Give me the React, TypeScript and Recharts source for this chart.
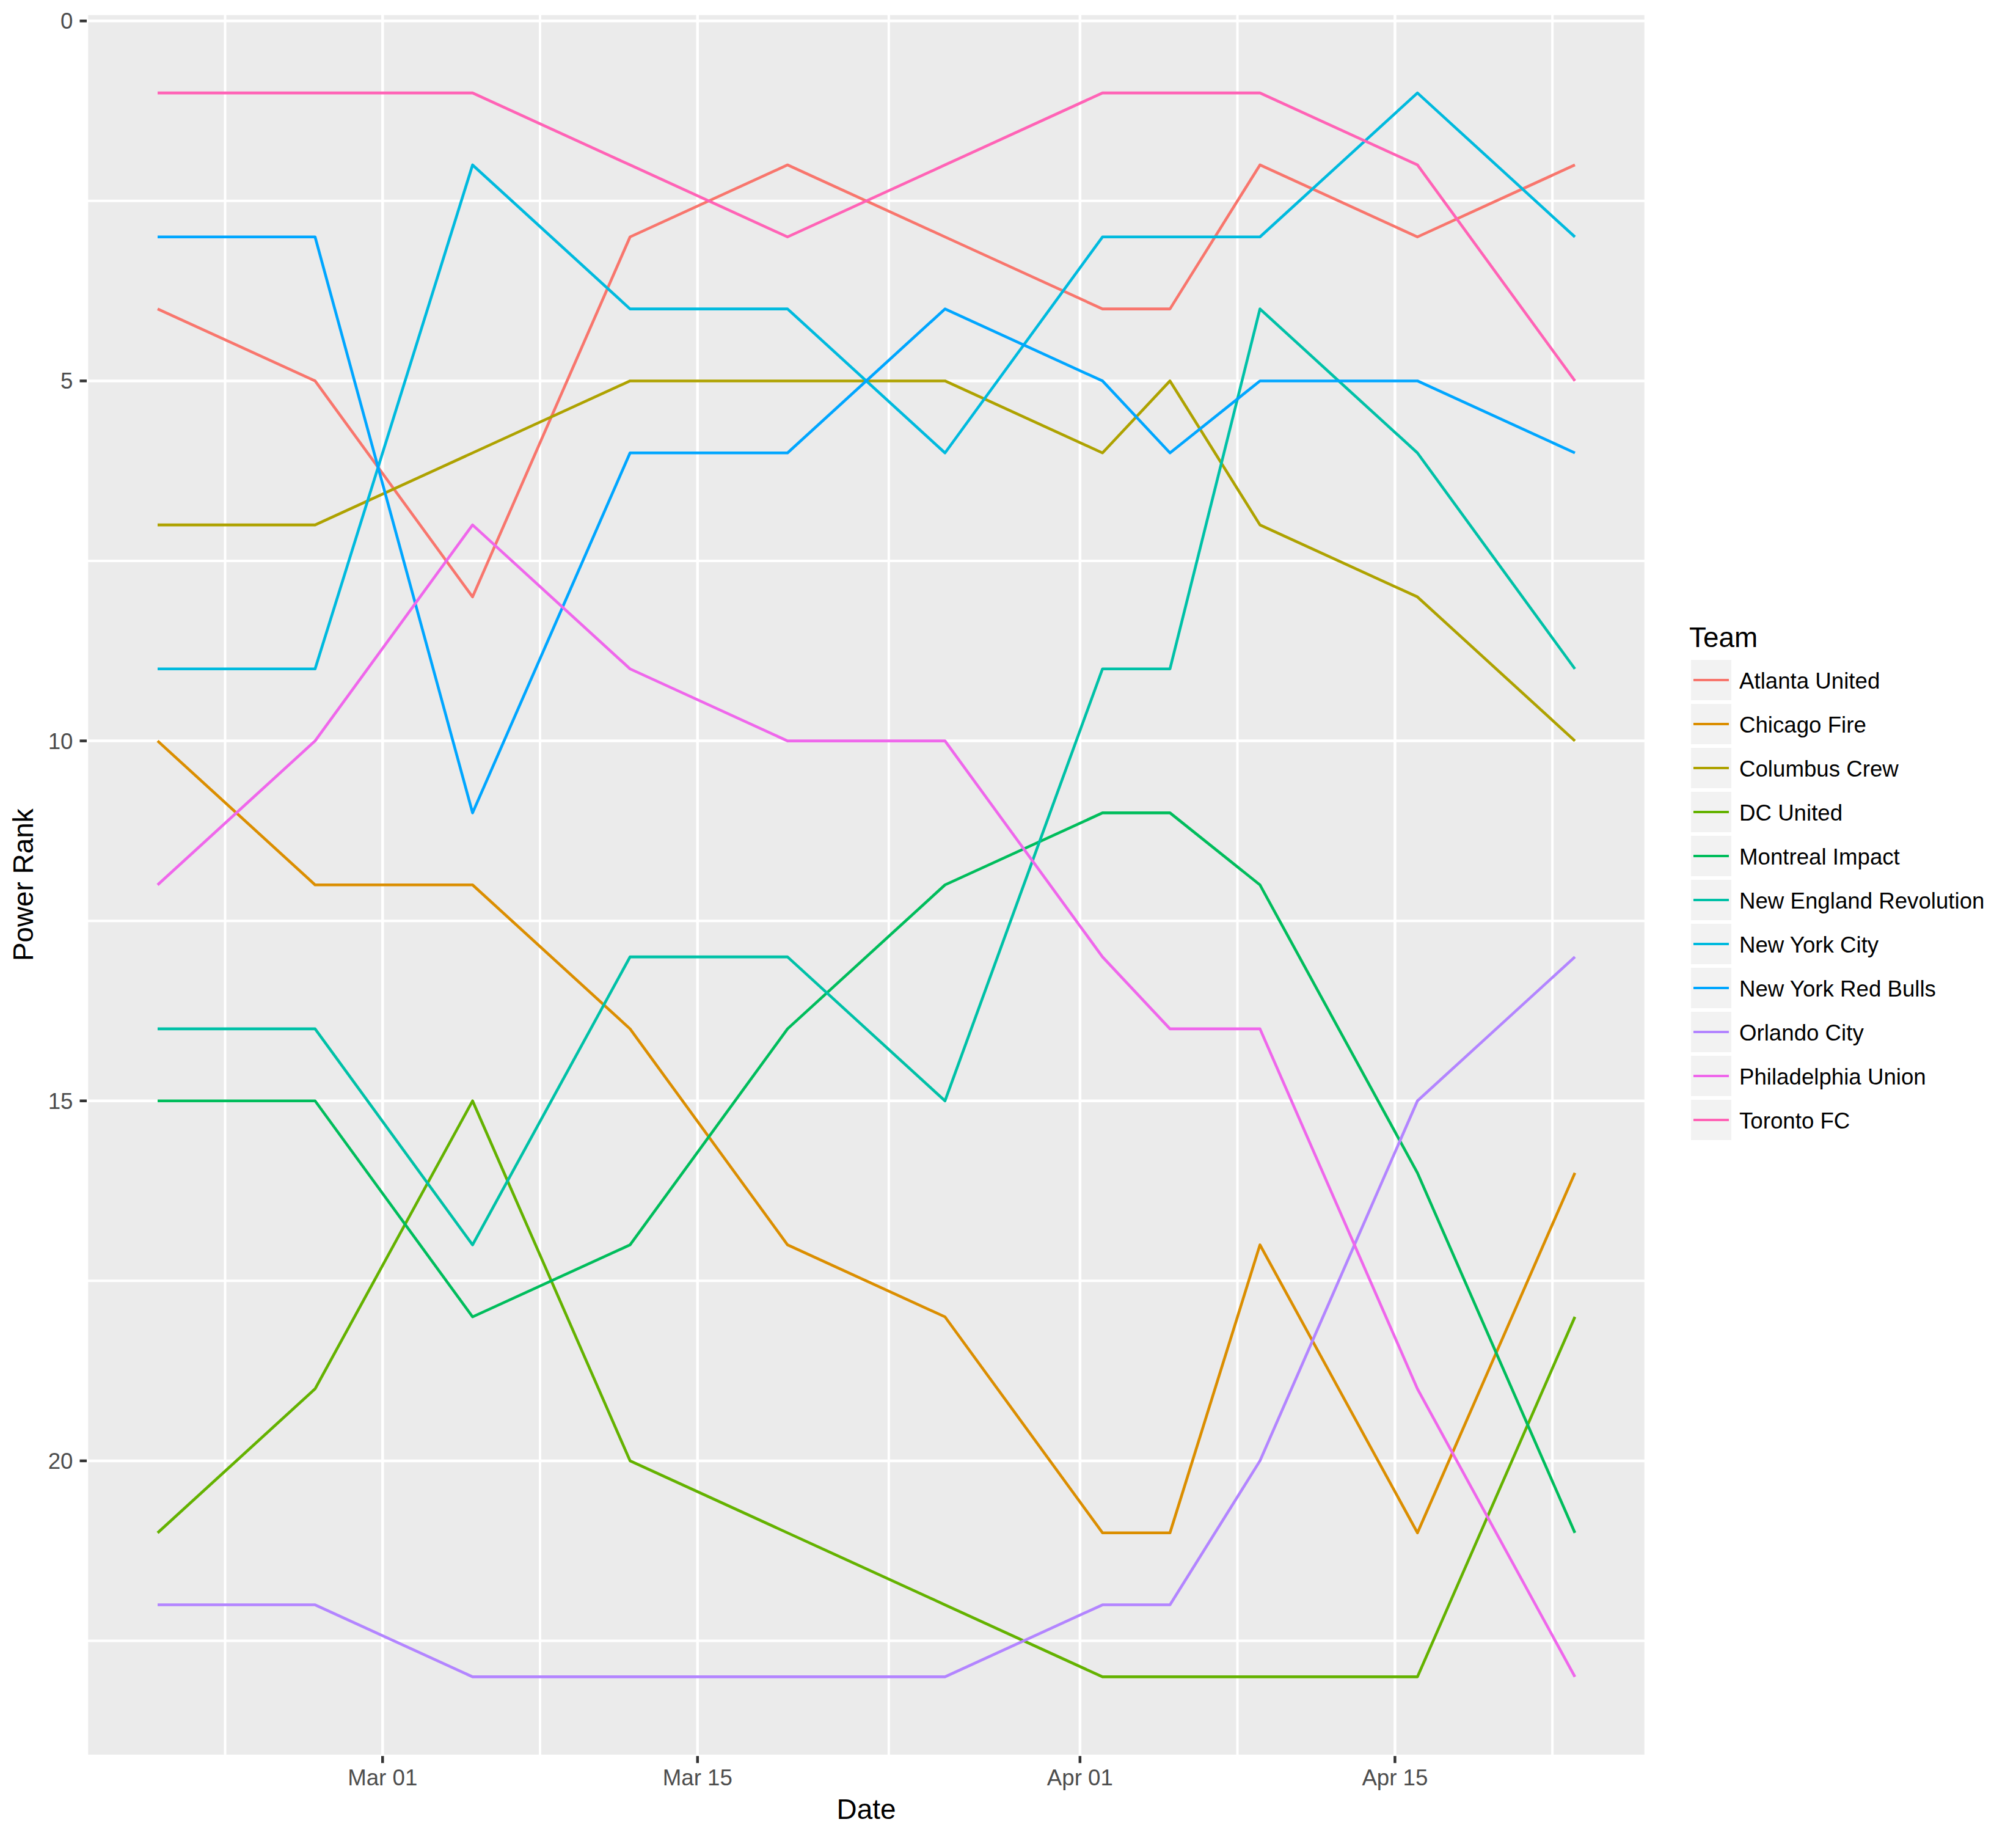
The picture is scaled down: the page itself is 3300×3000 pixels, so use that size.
import React from 'react';
import { LineChart, Line, XAxis, YAxis, CartesianGrid, Legend } from 'recharts';

const FONT = '"Liberation Sans", Arial, Helvetica, sans-serif';

// Dates of each power ranking
const dates = [
  '2017-02-19', '2017-02-26', '2017-03-05', '2017-03-12', '2017-03-19', '2017-03-26',
  '2017-04-02', '2017-04-05', '2017-04-09', '2017-04-16', '2017-04-23',
];

const teams = [
  'Atlanta United', 'Chicago Fire', 'Columbus Crew', 'DC United', 'Montreal Impact',
  'New England Revolution', 'New York City', 'New York Red Bulls', 'Orlando City',
  'Philadelphia Union', 'Toronto FC',
];

const colors = [
  '#F8766D', '#DB8E00', '#AEA200', '#64B200', '#00BD5C', '#00C1A7',
  '#00BADE', '#00A6FF', '#B385FF', '#EF67EB', '#FF63B6',
];

const atlantaUnited = [4, 5, 8, 3, 2, 3, 4, 4, 2, 3, 2];
const chicagoFire = [10, 12, 12, 14, 17, 18, 21, 21, 17, 21, 16];
const columbusCrew = [7, 7, 6, 5, 5, 5, 6, 5, 7, 8, 10];
const dcUnited = [21, 19, 15, 20, 21, 22, 23, 23, 23, 23, 18];
const montrealImpact = [15, 15, 18, 17, 14, 12, 11, 11, 12, 16, 21];
const newEnglandRevolution = [14, 14, 17, 13, 13, 15, 9, 9, 4, 6, 9];
const newYorkCity = [9, 9, 2, 4, 4, 6, 3, 3, 3, 1, 3];
const newYorkRedBulls = [3, 3, 11, 6, 6, 4, 5, 6, 5, 5, 6];
const orlandoCity = [22, 22, 23, 23, 23, 23, 22, 22, 20, 15, 13];
const philadelphiaUnion = [12, 10, 7, 9, 10, 10, 13, 14, 14, 19, 23];
const torontoFC = [1, 1, 1, 2, 3, 2, 1, 1, 1, 2, 5];

const seriesValues = [
  atlantaUnited, chicagoFire, columbusCrew, dcUnited, montrealImpact,
  newEnglandRevolution, newYorkCity, newYorkRedBulls, orlandoCity,
  philadelphiaUnion, torontoFC,
];

// Axis ticks
const xTickDates = ['2017-03-01', '2017-03-15', '2017-04-01', '2017-04-15'];
const xTickLabels = ['Mar 01', 'Mar 15', 'Apr 01', 'Apr 15'];
const xMinorDates = ['2017-02-22', '2017-03-08', '2017-03-23T12:00:00Z', '2017-04-08', '2017-04-22'];
const yTicks = [0, 5, 10, 15, 20];
const yMinor = [2.5, 7.5, 12.5, 17.5, 22.5];

const ts = (s: string) => Date.parse(s);

const data = dates.map((d, i) => {
  const row: Record<string, number> = { x: ts(d) };
  teams.forEach((t, j) => {
    row[t] = seriesValues[j][i];
  });
  return row;
});

const xs = dates.map(ts);
const xMin = Math.min(...xs);
const xMax = Math.max(...xs);
const xPad = (xMax - xMin) * 0.05;
const allVals = seriesValues.flat();
const yMin = Math.min(...allVals);
const yMax = Math.max(...allVals);
const yPad = (yMax - yMin) * 0.05;

const xTicks = xTickDates.map(ts);
const xMinor = xMinorDates.map(ts);
const labelFor = (v: number) => {
  const i = xTicks.indexOf(v);
  return i >= 0 ? xTickLabels[i] : '';
};

const LINE_W = 4.6;
const GRID_W = 4.5;
const MINOR_W = 4.0;

const renderLegend = () => (
  <div style={{ position: 'relative', width: 535, height: 900, fontFamily: FONT }}>
    <div
      style={{
        position: 'absolute', left: 0, top: 21.2, fontSize: 45.83, lineHeight: '45.83px',
        color: '#000000', whiteSpace: 'nowrap',
      }}
    >
      Team
    </div>
    {teams.map((t, i) => (
      <div key={t} style={{ position: 'absolute', left: 0, top: 77 + 72 * i, width: 535, height: 72 }}>
        <div
          style={{
            position: 'absolute', left: 0, top: 0, width: 72, height: 72, boxSizing: 'border-box',
            border: '3px solid #FFFFFF', background: '#F2F2F2',
          }}
        />
        <div
          style={{
            position: 'absolute', left: 7.2, top: 36 - LINE_W / 2, width: 57.6, height: LINE_W,
            background: colors[i],
          }}
        />
        <div
          style={{
            position: 'absolute', left: 82, top: 19.7, fontSize: 36.67, lineHeight: '36.67px',
            color: '#000000', whiteSpace: 'nowrap',
          }}
        >
          {t}
        </div>
      </div>
    ))}
  </div>
);

export default function App() {
  return (
    <div style={{ position: 'absolute', left: 0, top: 0, width: 3300, height: 3000, background: '#FFFFFF' }}>
      <LineChart
        width={3300}
        height={3000}
        data={data}
        margin={{ top: 22.5, right: 606, bottom: 0, left: 0 }}
        style={{ fontFamily: FONT }}
      >
        <CartesianGrid
          fill="#EBEBEB"
          fillOpacity={1}
          stroke="#FFFFFF"
          strokeWidth={MINOR_W}
          horizontalValues={yMinor}
          verticalValues={xMinor}
        />
        <CartesianGrid stroke="#FFFFFF" strokeWidth={GRID_W} />
        <XAxis
          dataKey="x"
          type="number"
          scale="linear"
          domain={[xMin - xPad, xMax + xPad]}
          allowDataOverflow
          ticks={xTicks}
          interval={0}
          tickFormatter={labelFor}
          height={126}
          axisLine={false}
          tickSize={11.5}
          tickMargin={10}
          tickLine={{ stroke: '#333333', strokeWidth: GRID_W }}
          tick={{ fill: '#4D4D4D', fontSize: 36.67, fontFamily: FONT }}
          label={{
            value: 'Date', position: 'insideBottom', offset: 23,
            style: { fill: '#000000', fontSize: 45.83, fontFamily: FONT },
          }}
        />
        <YAxis
          type="number"
          reversed
          domain={[yMin - yPad, yMax + yPad]}
          allowDataOverflow
          ticks={yTicks}
          interval={0}
          width={142}
          axisLine={false}
          tickSize={11.5}
          tickMargin={11}
          tickLine={{ stroke: '#333333', strokeWidth: GRID_W }}
          tick={{ fill: '#4D4D4D', fontSize: 36.67, fontFamily: FONT }}
          label={{
            value: 'Power Rank', angle: -90, position: 'insideLeft', offset: 38,
            style: { fill: '#000000', fontSize: 45.83, fontFamily: FONT, textAnchor: 'middle' },
          }}
        />
        {teams.map((t, i) => (
          <Line
            key={t}
            type="linear"
            dataKey={t}
            name={t}
            stroke={colors[i]}
            strokeWidth={LINE_W}
            strokeLinejoin="round"
            strokeLinecap="butt"
            dot={false}
            activeDot={false}
            isAnimationActive={false}
          />
        ))}
        <Legend
          layout="vertical"
          align="center"
          verticalAlign="middle"
          content={renderLegend}
          wrapperStyle={{ left: 2765, top: 1000, width: 535, height: 900 }}
        />
      </LineChart>
    </div>
  );
}
